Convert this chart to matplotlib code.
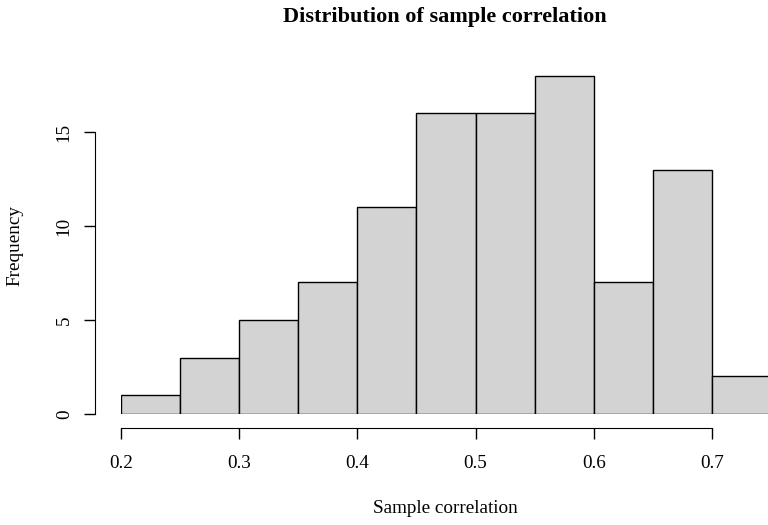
import matplotlib.pyplot as plt
import numpy as np

plt.rcParams['font.family'] = ['Liberation Serif', 'DejaVu Serif']

# histogram bins and counts
bin_edges = [0.20, 0.25, 0.30, 0.35, 0.40, 0.45, 0.50, 0.55, 0.60, 0.65, 0.70, 0.75]
counts = [1, 3, 5, 7, 11, 16, 16, 18, 7, 13, 2]
x_ticks = [0.2, 0.3, 0.4, 0.5, 0.6, 0.7]
y_ticks = [0, 5, 10, 15]

W, H = 768, 525
fig = plt.figure(figsize=(W / 100, H / 100), dpi=100)

# pixel layout: x=0.2 at px 121, 0.1 per 118.2 px; y=0 at px 414, 18.8 px per unit
left_px, right_px = 121, W
bottom_px, top_px = 414, 56
ax = fig.add_axes([left_px / W, (H - bottom_px) / H,
                   (right_px - left_px) / W, (bottom_px - top_px) / H])
ax.set_xlim(0.2, 0.2 + (right_px - left_px) / 1182)
ax.set_ylim(0, (bottom_px - top_px) / 18.8)

edges = np.array(bin_edges)
ax.bar(edges[:-1], counts, width=np.diff(edges), align='edge',
       color='#d3d3d3', edgecolor='black', linewidth=1.0)

for s in ['top', 'right']:
    ax.spines[s].set_visible(False)
ax.spines['left'].set_position(('outward', 26 * 0.72))
ax.spines['bottom'].set_position(('outward', 14 * 0.72))
ax.spines['left'].set_bounds(0, 15)
ax.spines['bottom'].set_bounds(0.2, 0.7)

ax.set_xticks(x_ticks)
ax.set_xticklabels([f'{v:.1f}' for v in x_ticks])
ax.set_yticks(y_ticks)
ax.set_yticklabels([str(v) for v in y_ticks], rotation=90, va='center')
ax.tick_params(length=8, width=1.0, labelsize=13.8)
ax.tick_params(axis='x', pad=11.5)
ax.tick_params(axis='y', pad=8)

fig.text(445 / W, 1 - 513 / H, 'Sample correlation', ha='center', va='baseline', fontsize=13.8)
fig.text(15 / W, 1 - 245 / H, 'Frequency', ha='center', va='center', rotation=90, fontsize=13.8)
fig.text(445 / W, 1 - 22 / H, 'Distribution of sample correlation', ha='center', va='baseline',
         fontsize=16, fontweight='bold')

fig.savefig('out.png', dpi=100)
